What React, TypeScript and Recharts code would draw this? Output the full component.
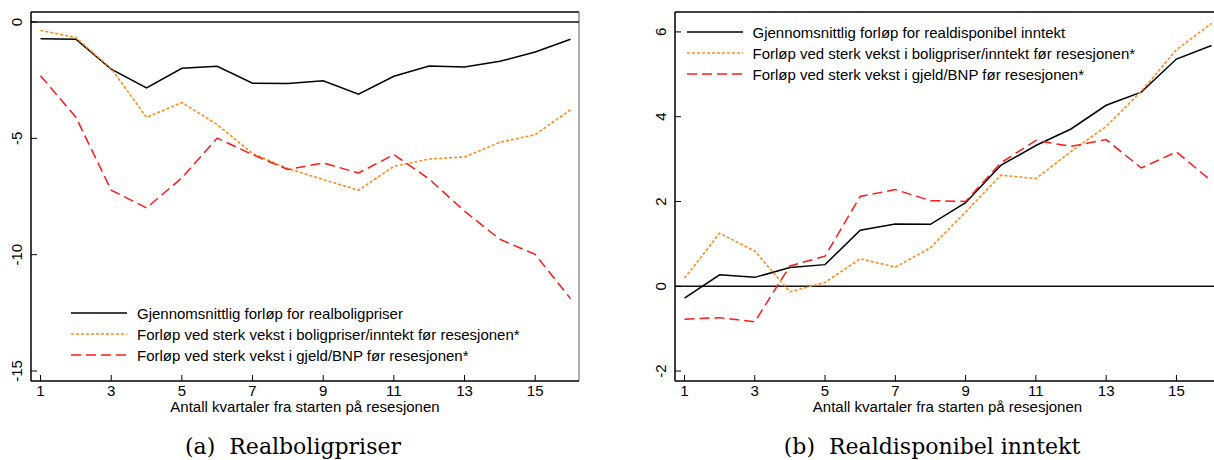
import { LineChart, Line, XAxis, YAxis, ReferenceLine, Legend } from "recharts";

const QUARTERS = [1, 2, 3, 4, 5, 6, 7, 8, 9, 10, 11, 12, 13, 14, 15, 16];
const X_TICKS = [1, 3, 5, 7, 9, 11, 13, 15];

// (a) Realboligpriser
const BOLIG_SNITT = [-0.72, -0.74, -2.03, -2.83, -1.99, -1.9, -2.63, -2.64, -2.53, -3.1, -2.33, -1.89, -1.93, -1.69, -1.29, -0.74];
const BOLIG_PRISVEKST = [-0.36, -0.67, -2.0, -4.1, -3.46, -4.41, -5.65, -6.3, -6.77, -7.23, -6.2, -5.89, -5.8, -5.17, -4.84, -3.77];
const BOLIG_GJELDVEKST = [-2.31, -4.09, -7.23, -7.99, -6.7, -4.99, -5.7, -6.34, -6.06, -6.49, -5.7, -6.75, -8.13, -9.34, -9.99, -11.89];
const BOLIG_Y_TICKS = [-15, -10, -5, 0];

// (b) Realdisponibel inntekt
const INNTEKT_SNITT = [-0.28, 0.27, 0.21, 0.44, 0.51, 1.32, 1.47, 1.46, 1.97, 2.85, 3.32, 3.71, 4.27, 4.58, 5.36, 5.68];
const INNTEKT_PRISVEKST = [0.19, 1.25, 0.83, -0.13, 0.09, 0.65, 0.45, 0.91, 1.75, 2.62, 2.54, 3.18, 3.77, 4.6, 5.58, 6.2];
const INNTEKT_GJELDVEKST = [-0.78, -0.74, -0.84, 0.48, 0.71, 2.12, 2.28, 2.02, 2.0, 2.91, 3.44, 3.3, 3.46, 2.79, 3.17, 2.48];
const INNTEKT_Y_TICKS = [-2, 0, 2, 4, 6];

const BOLIG_LEGEND = [
  "Gjennomsnittlig forløp for realboligpriser",
  "Forløp ved sterk vekst i boligpriser/inntekt før resesjonen*",
  "Forløp ved sterk vekst i gjeld/BNP før resesjonen*",
];
const INNTEKT_LEGEND = [
  "Gjennomsnittlig forløp for realdisponibel inntekt",
  "Forløp ved sterk vekst i boligpriser/inntekt før resesjonen*",
  "Forløp ved sterk vekst i gjeld/BNP før resesjonen*",
];

const X_TITLE = "Antall kvartaler fra starten på resesjonen";

const SANS = "'Liberation Sans', Arial, sans-serif";
const ORANGE = "#ff8c1a";
const RED = "#ff1a1a";
const STYLES = [
  { stroke: "#000", dash: undefined, width: 1.5 },
  { stroke: ORANGE, dash: "3 2", width: 1.6 },
  { stroke: RED, dash: "10 5", width: 1.5 },
];

const toRows = (a: number[], b: number[], c: number[]) =>
  QUARTERS.map((q, i) => ({ q, snitt: a[i], pris: b[i], gjeld: c[i] }));

const YTick = (props: any) => {
  const { x, y, payload } = props;
  return (
    <g>
      <line x1={x} x2={x + 6} y1={y} y2={y} stroke="#000" strokeWidth={1} />
      <text
        x={x - 14}
        y={y}
        transform={`rotate(-90 ${x - 14} ${y})`}
        textAnchor="middle"
        dominantBaseline="central"
        fontFamily={SANS}
        fontSize={15}
        fill="#000"
      >
        {payload.value}
      </text>
    </g>
  );
};

const XTick = (props: any) => {
  const { x, y, payload } = props;
  return (
    <g>
      <line x1={x} x2={x} y1={y - 6} y2={y} stroke="#000" strokeWidth={1} />
      <text x={x} y={y + 15} textAnchor="middle" fontFamily={SANS} fontSize={15} fill="#000">
        {payload.value}
      </text>
    </g>
  );
};

const makeLegend = (labels: string[]) => () => (
  <div style={{ fontFamily: SANS, fontSize: 15, color: "#000" }}>
    {labels.map((label, i) => (
      <div key={label} style={{ display: "flex", alignItems: "center", height: 21, whiteSpace: "nowrap" }}>
        <svg width={56} height={6} style={{ marginRight: 10 }}>
          <line x1={0} x2={56} y1={3} y2={3} stroke={STYLES[i].stroke} strokeWidth={STYLES[i].width} strokeDasharray={STYLES[i].dash} />
        </svg>
        <span>{label}</span>
      </div>
    ))}
  </div>
);

function Panel(props: {
  rows: any[];
  width: number;
  yWidth: number;
  marginRight: number;
  yDomain: [number, number];
  yTicks: number[];
  legend: string[];
  legendPos: { left: number; top: number };
  rightBorder: boolean;
}) {
  const { rows, width, yWidth, marginRight, yDomain, yTicks, legend, legendPos, rightBorder } = props;
  const xMax = 16.24;
  return (
    <LineChart width={width} height={460} data={rows} margin={{ top: 12, right: marginRight, bottom: 0, left: 0 }}>
      <XAxis
        dataKey="q"
        type="number"
        domain={[0.73, xMax]}
        ticks={X_TICKS}
        interval={0}
        height={79}
        tickSize={0}
        tickMargin={0}
        tickLine={false}
        tick={<XTick />}
        axisLine={{ stroke: "#000", strokeWidth: 1.5 }}
        allowDataOverflow
        label={{ value: X_TITLE, position: "insideTop", offset: 20, fontFamily: SANS, fontSize: 15, fill: "#000" }}
      />
      <YAxis
        type="number"
        domain={yDomain}
        ticks={yTicks}
        interval={0}
        width={yWidth}
        tickSize={0}
        tickMargin={0}
        tickLine={false}
        tick={<YTick />}
        axisLine={{ stroke: "#000", strokeWidth: 1.5 }}
        allowDataOverflow
      />
      <ReferenceLine y={yDomain[1]} stroke="#000" strokeWidth={1.5} />
      {rightBorder && <ReferenceLine x={xMax} stroke="#777" strokeWidth={1.2} />}
      <ReferenceLine y={0} stroke="#111" strokeWidth={1.5} />
      <Line dataKey="snitt" stroke={STYLES[0].stroke} strokeWidth={STYLES[0].width} dot={false} isAnimationActive={false} />
      <Line dataKey="pris" stroke={STYLES[1].stroke} strokeWidth={STYLES[1].width} strokeDasharray={STYLES[1].dash} dot={false} isAnimationActive={false} />
      <Line dataKey="gjeld" stroke={STYLES[2].stroke} strokeWidth={STYLES[2].width} strokeDasharray={STYLES[2].dash} dot={false} isAnimationActive={false} />
      <Legend
        layout="vertical"
        align="center"
        verticalAlign="middle"
        content={makeLegend(legend)}
        wrapperStyle={{ left: legendPos.left, top: legendPos.top, width: 560 }}
      />
    </LineChart>
  );
}

const captionStyle: any = {
  position: "absolute",
  top: 433,
  fontFamily: "'DejaVu Serif', serif",
  fontSize: 22,
  lineHeight: "28px",
  color: "#000",
  whiteSpace: "pre",
  transform: "translateX(-50%)",
};

export default function App() {
  return (
    <div style={{ position: "fixed", left: 0, top: 0, width: 1214, height: 460, overflow: "hidden", background: "#fff" }}>
      <div style={{ position: "absolute", left: 0, top: 0 }}>
        <Panel
          rows={toRows(BOLIG_SNITT, BOLIG_PRISVEKST, BOLIG_GJELDVEKST)}
          width={600}
          yWidth={31}
          marginRight={21}
          yDomain={[-15.43, 0.43]}
          yTicks={BOLIG_Y_TICKS}
          legend={BOLIG_LEGEND}
          legendPos={{ left: 71, top: 302.5 }}
          rightBorder
        />
      </div>
      <div style={{ position: "absolute", left: 620, top: 0 }}>
        <Panel
          rows={toRows(INNTEKT_SNITT, INNTEKT_PRISVEKST, INNTEKT_GJELDVEKST)}
          width={620}
          yWidth={55}
          marginRight={20}
          yDomain={[-2.235, 6.47]}
          yTicks={INNTEKT_Y_TICKS}
          legend={INNTEKT_LEGEND}
          legendPos={{ left: 66.5, top: 21.5 }}
          rightBorder={false}
        />
      </div>
      <div style={{ ...captionStyle, left: 293 }}>(a)  Realboligpriser</div>
      <div style={{ ...captionStyle, left: 932 }}>(b)  Realdisponibel inntekt</div>
    </div>
  );
}
